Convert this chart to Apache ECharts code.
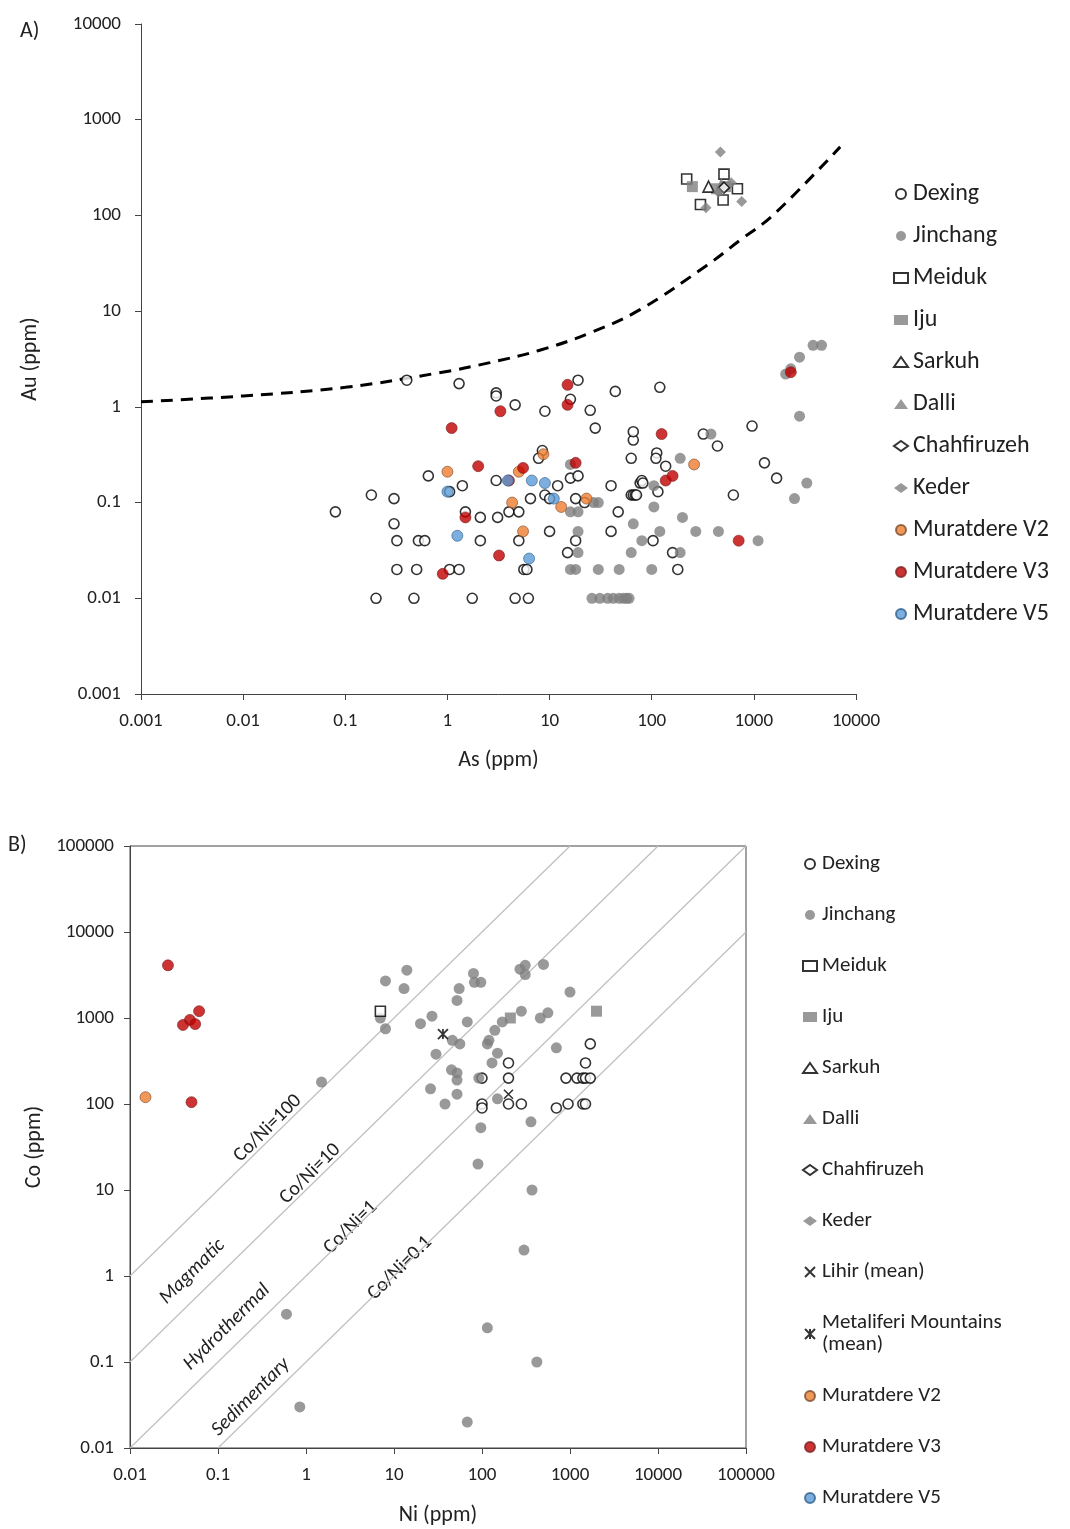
<!DOCTYPE html>
<html>
<head>
<meta charset="utf-8">
<script src="https://cdn.jsdelivr.net/npm/echarts@6/dist/echarts.min.js"></script>
<style>
  html, body { margin: 0; padding: 0; background: #fff; }
  #chart { width: 1070px; height: 1529px; }
</style>
</head>
<body>
<div id="chart"></div>
<script>
// ---- Panel A: Au vs As ----
const dexingA = [[0.08,0.08],[0.18,0.12],[0.3,0.11],[0.3,0.06],[0.32,0.04],[0.32,0.02],[0.2,0.01],[0.4,1.9],
  [0.47,0.01],[0.5,0.02],[0.52,0.04],[0.6,0.04],[0.65,0.19],[1.05,0.13],[1.05,0.02],[1.3,0.02],[1.3,1.75],
  [1.4,0.15],[1.5,0.08],[1.75,0.01],[2.1,0.07],[2.1,0.04],[3,1.4],[3,1.3],[3.1,0.07],[3,0.17],[4,0.08],
  [4.6,1.05],[4.6,0.01],[5,0.08],[5,0.04],[5.6,0.02],[6,0.02],[6.2,0.01],[6.5,0.11],[8.5,0.35],[7.8,0.29],
  [9,0.9],[9,0.12],[10,0.11],[10,0.05],[12,0.15],[15,0.03],[16,0.18],[18,0.11],[18,0.04],[19,1.9],[19,0.19],
  [16,1.2],[25,0.92],[28,0.6],[40,0.15],[40,0.05],[44,1.45],[47,0.08],[63,0.29],[66,0.45],[66,0.55],
  [63,0.12],[66,0.12],[69,0.12],[71,0.12],[77,0.16],[80,0.17],[82,0.16],[103,0.04],[112,0.33],[110,0.29],
  [115,0.13],[120,1.6],[137,0.24],[160,0.03],[180,0.02],[320,0.52],[440,0.39],[630,0.12],[960,0.63],
  [1270,0.26],[1670,0.18],[22,0.1]];
const jinchangA = [[380,0.52],[190,0.29],[105,0.15],[105,0.09],[120,0.05],[66,0.06],[63,0.03],[80,0.04],
  [100,0.02],[48,0.02],[30,0.02],[26,0.01],[31,0.01],[37,0.01],[42,0.01],[48,0.01],[53,0.01],[57,0.01],
  [60,0.01],[16,0.02],[18,0.02],[16,0.25],[19,0.08],[16,0.08],[19,0.05],[19,0.03],[30,0.1],[27,0.1],
  [200,0.07],[190,0.03],[270,0.05],[450,0.05],[1100,0.04],[2500,0.11],[3300,0.16],[2800,0.8],
  [2050,2.2],[2300,2.5],[2800,3.3],[3800,4.4],[4600,4.4]];
const meidukA = [[220,240],[510,270],[690,190],[500,145],[300,130]];
const ijuA = [[250,200],[430,190],[530,200]];
const sarkuhA = [[360,200]];
const dalliA = [[480,215]];
const chahA = [[510,195]];
const kederA = [[470,460],[760,140],[340,120],[600,220],[450,175]];
const v2A = [[1,0.21],[5,0.21],[8.7,0.32],[4.3,0.1],[13,0.09],[23,0.11],[5.5,0.05],[260,0.25]];
const v3A = [[15,1.7],[15,1.05],[3.3,0.9],[1.1,0.6],[2,0.24],[5.5,0.23],[4,0.17],[18,0.26],[125,0.52],
  [137,0.17],[160,0.19],[1.5,0.07],[3.2,0.028],[0.9,0.018],[710,0.04],[2300,2.3]];
const v5A = [[1,0.13],[3.9,0.17],[6.7,0.17],[9,0.16],[11,0.11],[1.25,0.045],[6.3,0.026]];
const boundaryA = [[0.001,1.13],[0.01,1.3],[0.1,1.6],[0.83,2.27],[2.6,2.9],[8,3.9],[24.6,5.9],[76,10.3],
  [345,30],[730,55],[1530,100],[7000,520]];

// ---- Panel B: Co vs Ni ----
const dexingB = [[200,300],[200,200],[100,200],[100,100],[100,90],[200,100],[280,100],[700,90],[950,100],
  [1400,100],[1500,100],[900,200],[1200,200],[1400,200],[1500,200],[1700,200],[1500,300],[1700,500]];
const jinchangB = [[7,1000],[8,750],[8,2700],[14,3600],[13,2200],[1.5,180],[20,860],[27,1050],[55,2200],
  [52,1600],[80,3300],[82,2600],[97,2600],[68,900],[46,550],[56,500],[30,380],[45,250],[52,230],[52,190],
  [26,150],[38,100],[52,130],[92,200],[140,720],[120,550],[115,500],[150,390],[130,300],[150,115],[97,53],
  [280,1200],[460,1000],[560,1150],[270,3700],[310,4100],[310,3200],[500,4200],[1000,2000],[700,450],
  [360,62],[170,900],[90,20],[370,10],[300,2],[0.6,0.36],[115,0.25],[420,0.1],[0.85,0.03],[68,0.02]];
const meidukB = [[7,1200]];
const ijuB = [[2000,1200],[210,1000]];
const lihirB = [[200,130]];
const metaliferiB = [[36,650]];
const v2B = [[0.015,120]];
const v3B = [[0.027,4100],[0.061,1200],[0.04,830],[0.048,950],[0.055,850],[0.05,105]];
const ratios = [100, 10, 1, 0.1];

const logTicks = ['0.001','0.01','0.1','1','10','100','1000','10000','100000'];

const crossPath = 'path://M0,0L10,10M10,0L0,10';
const starPath = 'path://M0,0L10,10M10,0L0,10M5,0L5,10';

const openStyle = { color: '#fff', borderColor: '#000', borderWidth: 1.6 };
const grayStyle = { color: '#7f7f7f' };
const S = {
  'Dexing': { symbol: 'circle', size: 10, style: openStyle },
  'Jinchang': { symbol: 'circle', size: 11, style: grayStyle },
  'Meiduk': { symbol: 'rect', size: 10, style: openStyle },
  'Iju': { symbol: 'rect', size: 11, style: grayStyle },
  'Sarkuh': { symbol: 'triangle', size: 11, style: openStyle },
  'Dalli': { symbol: 'triangle', size: 11, style: grayStyle },
  'Chahfiruzeh': { symbol: 'diamond', size: 11, style: openStyle },
  'Keder': { symbol: 'diamond', size: 11, style: grayStyle },
  'Lihir (mean)': { symbol: crossPath, size: 9, style: { color: 'none', borderColor: '#000', borderWidth: 1.6 } },
  'Metaliferi Mountains\n(mean)': { symbol: starPath, size: 10, style: { color: 'none', borderColor: '#000', borderWidth: 1.8 } },
  'Muratdere V2': { symbol: 'circle', size: 11, style: { color: '#ed7d31', borderColor: '#7a4a2a', borderWidth: 0.8 } },
  'Muratdere V3': { symbol: 'circle', size: 11, style: { color: '#c00000', borderColor: '#7a2020', borderWidth: 0.8 } },
  'Muratdere V5': { symbol: 'circle', size: 11, style: { color: '#5b9bd5', borderColor: '#2f5f8f', borderWidth: 0.8 } }
};

function sc(name, data, idx) {
  const s = S[name];
  return { name, type: 'scatter', xAxisIndex: idx, yAxisIndex: idx, data,
    symbol: s.symbol, symbolSize: s.size, itemStyle: s.style, z: 3 };
}

const font = 'Calibri, Carlito, "Open Sans", sans-serif';
function logAxis(grid, min, max, name, gap, margin) {
  return {
    type: 'log', logBase: 10, gridIndex: grid, min, max, name, nameLocation: 'middle', nameGap: gap,
    nameTextStyle: { fontSize: 22, color: '#222', fontFamily: font },
    axisLine: { show: true, onZero: false, lineStyle: { color: '#444', width: 1 } },
    axisTick: { show: true, length: 6, lineStyle: { color: '#444' } },
    minorTick: { show: false }, splitLine: { show: false },
    axisLabel: { fontSize: 19, color: '#222', fontFamily: font, margin,
      formatter: v => logTicks.find(t => Math.abs(Math.log10(+t) - Math.log10(v)) < 1e-6) || '' }
  };
}

const lineSeries = ratios.map(k => {
  const x0 = Math.max(0.01, 0.01 / k), x1 = Math.min(100000, 100000 / k);
  return { type: 'line', xAxisIndex: 1, yAxisIndex: 1, data: [[x0, x0 * k], [x1, x1 * k]],
    symbol: 'none', silent: true, lineStyle: { color: '#bfbfbf', width: 1.2 }, z: 1 };
});

const namesA = ['Dexing','Jinchang','Meiduk','Iju','Sarkuh','Dalli','Chahfiruzeh','Keder','Muratdere V2','Muratdere V3','Muratdere V5'];
const namesB = ['Dexing','Jinchang','Meiduk','Iju','Sarkuh','Dalli','Chahfiruzeh','Keder','Lihir (mean)','Metaliferi Mountains\n(mean)','Muratdere V2','Muratdere V3','Muratdere V5'];

const txt = (text, x, y, italic) => ({ type: 'text', x, y, rotation: Math.PI / 4,
  style: { text, fontSize: 20, fontStyle: italic ? 'italic' : 'normal', fill: '#222', fontFamily: font } });

const option = {
  animation: false,
  textStyle: { fontFamily: font },
  grid: [
    { left: 141, top: 24, width: 715, height: 670 },
    { left: 130, top: 846, width: 616, height: 602, show: true, borderColor: '#444', borderWidth: 1 }
  ],
  xAxis: [logAxis(0, 0.001, 10000, 'As (ppm)', 55, 18), logAxis(1, 0.01, 100000, 'Ni (ppm)', 56, 18)],
  yAxis: [logAxis(0, 0.001, 10000, 'Au (ppm)', 100, 20), logAxis(1, 0.01, 100000, 'Co (ppm)', 80, 16)],
  legend: [
    { data: namesA, orient: 'vertical', left: 888, top: 177, height: 600, itemGap: 18, itemWidth: 14, itemHeight: 10,
      textStyle: { fontSize: 24, color: '#222', fontFamily: font } },
    { data: namesB, orient: 'vertical', left: 797, top: 848, height: 675, itemGap: 29, itemWidth: 14, itemHeight: 10,
      textStyle: { fontSize: 21, color: '#222', fontFamily: font, lineHeight: 22 } }
  ],
  graphic: [
    { type: 'text', left: 20, top: 20, style: { text: 'A)', fontSize: 22, fill: '#222', fontFamily: font } },
    { type: 'text', left: 8, top: 834, style: { text: 'B)', fontSize: 22, fill: '#222', fontFamily: font } },
    txt('Co/Ni=100', 230, 1152), txt('Co/Ni=10', 276, 1194), txt('Co/Ni=1', 320, 1244), txt('Co/Ni=0.1', 364, 1290),
    txt('Magmatic', 156, 1294, true), txt('Hydrothermal', 180, 1360, true), txt('Sedimentary', 208, 1426, true)
  ],
  series: [
    { type: 'line', xAxisIndex: 0, yAxisIndex: 0, data: boundaryA, smooth: 0.4, symbol: 'none', silent: true,
      lineStyle: { color: '#000', width: 3, type: [12, 8] }, z: 1 },
    sc('Dexing', dexingA, 0), sc('Jinchang', jinchangA, 0), sc('Meiduk', meidukA, 0), sc('Iju', ijuA, 0),
    sc('Sarkuh', sarkuhA, 0), sc('Dalli', dalliA, 0), sc('Chahfiruzeh', chahA, 0), sc('Keder', kederA, 0),
    sc('Muratdere V2', v2A, 0), sc('Muratdere V3', v3A, 0), sc('Muratdere V5', v5A, 0),
    ...lineSeries,
    sc('Dexing', dexingB, 1), sc('Jinchang', jinchangB, 1), sc('Meiduk', meidukB, 1), sc('Iju', ijuB, 1),
    sc('Lihir (mean)', lihirB, 1), sc('Metaliferi Mountains\n(mean)', metaliferiB, 1),
    sc('Muratdere V2', v2B, 1), sc('Muratdere V3', v3B, 1)
  ]
};

const chart = echarts.init(document.getElementById('chart'));
chart.setOption(option);
</script>
</body>
</html>
